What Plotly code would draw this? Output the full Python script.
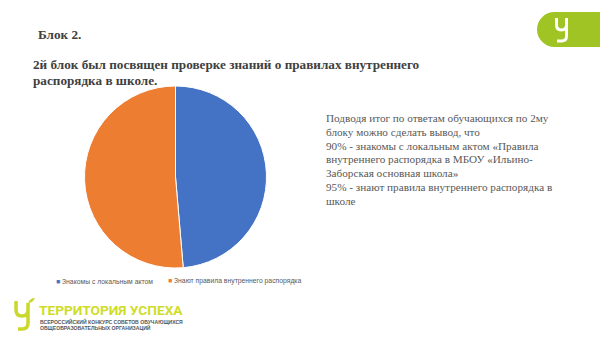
import plotly.graph_objects as go

W, H = 600, 337

# Survey block 2 results
labels = ["Знакомы с локальным актом", "Знают правила внутреннего распорядка"]
values = [90, 95]
colors = ["#4472C4", "#ED7D31"]

title_lines = [
    "Блок 2.",
    "2й блок был посвящен проверке знаний о правилах внутреннего",
    "распорядка в школе.",
]
summary_lines = [
    "Подводя итог по ответам обучающихся по 2му",
    "блоку можно сделать вывод, что",
    "90% - знакомы с локальным актом «Правила",
    "внутреннего распорядка в МБОУ «Ильино-",
    "Заборская основная школа»",
    "95% - знают правила внутреннего распорядка в",
    "школе",
]
brand_title = "ТЕРРИТОРИЯ УСПЕХА"
brand_sub = ["ВСЕРОССИЙСКИЙ КОНКУРС СОВЕТОВ ОБУЧАЮЩИХСЯ",
             "ОБЩЕОБРАЗОВАТЕЛЬНЫХ ОРГАНИЗАЦИЙ"]


def px(x):
    return x / W


def py(y):
    return 1 - y / H


fig = go.Figure()
fig.add_trace(go.Pie(
    labels=labels, values=values, sort=False, direction="clockwise",
    marker=dict(colors=colors, line=dict(color="white", width=1)),
    textinfo="none", hoverinfo="label+value", showlegend=False,
    domain=dict(x=[px(83), px(268)], y=[py(268), py(86)]),
))

ann = []
serif = "Liberation Serif"
sans = "Liberation Sans"

# heading
ann.append(dict(x=px(36), y=py(34), text=f"<b>{title_lines[0]}</b>",
                font=dict(family=serif, size=13.2, color="#404040")))
ann.append(dict(x=px(31), y=py(64), text=f"<b>{title_lines[1]}</b>",
                font=dict(family=serif, size=13.2, color="#404040")))
ann.append(dict(x=px(31), y=py(81), text=f"<b>{title_lines[2]}</b>",
                font=dict(family=serif, size=13.2, color="#404040")))

# summary block
for i, line in enumerate(summary_lines):
    ann.append(dict(x=px(324), y=py(118 + i * 13.8), text=line,
                    font=dict(family=serif, size=11.2, color="#595959")))

# legend row
legend_x = [54, 166]
for lx, lab, col in zip(legend_x, labels, colors):
    ann.append(dict(x=px(lx), y=py(281),
                    text=f"<span style='color:{col}'>■</span> {lab}",
                    font=dict(family=sans, size=6.8, color="#595959")))

# brand block
ann.append(dict(x=px(37), y=py(310), text=f"<b>{brand_title}</b>",
                font=dict(family="Roboto", size=13.7, color="#CFDC2A")))
for i, line in enumerate(brand_sub):
    ann.append(dict(x=px(38), y=py(321.5 + i * 6), text=f"<b>{line}</b>",
                    font=dict(family=sans, size=5.1, color="#555555")))

for a in ann:
    a.update(xref="paper", yref="paper", xanchor="left", yanchor="middle",
             showarrow=False)

shapes = []
badge = "#A0C423"
# top-right badge
shapes.append(dict(type="circle", xref="paper", yref="paper",
                   x0=px(537), x1=px(572), y0=py(47), y1=py(12),
                   fillcolor=badge, line=dict(width=0)))
shapes.append(dict(type="rect", xref="paper", yref="paper",
                   x0=px(554.5), x1=px(600), y0=py(47), y1=py(12),
                   fillcolor=badge, line=dict(width=0)))
glyph = (f"M {px(556.5):.4f},{py(18):.4f} L {px(556.5):.4f},{py(25):.4f} "
         f"Q {px(556.5):.4f},{py(30):.4f} {px(561.5):.4f},{py(30):.4f} "
         f"Q {px(566.5):.4f},{py(30):.4f} {px(566.5):.4f},{py(25):.4f} "
         f"M {px(566.5):.4f},{py(18):.4f} L {px(566.5):.4f},{py(36):.4f} "
         f"Q {px(566.5):.4f},{py(41):.4f} {px(561.5):.4f},{py(41):.4f} "
         f"L {px(557):.4f},{py(41):.4f}")
shapes.append(dict(type="path", xref="paper", yref="paper", path=glyph,
                   line=dict(color="white", width=3)))

# bottom brand glyph
g2 = (f"M {px(16):.4f},{py(301):.4f} L {px(16):.4f},{py(310):.4f} "
      f"Q {px(16):.4f},{py(316):.4f} {px(22):.4f},{py(316):.4f} "
      f"Q {px(28):.4f},{py(316):.4f} {px(28):.4f},{py(310):.4f} "
      f"M {px(28):.4f},{py(303):.4f} L {px(28):.4f},{py(323):.4f} "
      f"Q {px(28):.4f},{py(329):.4f} {px(22):.4f},{py(329):.4f} "
      f"L {px(18):.4f},{py(329):.4f}")
shapes.append(dict(type="path", xref="paper", yref="paper", path=g2,
                   line=dict(color="#C9D82B", width=3.5)))
shapes.append(dict(type="path", xref="paper", yref="paper",
                   path=(f"M {px(28):.4f},{py(303):.4f} Q {px(30):.4f},{py(298):.4f} "
                         f"{px(35):.4f},{py(298):.4f} Q {px(33):.4f},{py(303):.4f} "
                         f"{px(28):.4f},{py(303):.4f} Z"),
                   fillcolor="#C9D82B", line=dict(width=0)))

fig.update_layout(
    width=W, height=H, margin=dict(l=0, r=0, t=0, b=0),
    paper_bgcolor="white", plot_bgcolor="white",
    annotations=ann, shapes=shapes, showlegend=False,
)

fig.write_html("out.html")
